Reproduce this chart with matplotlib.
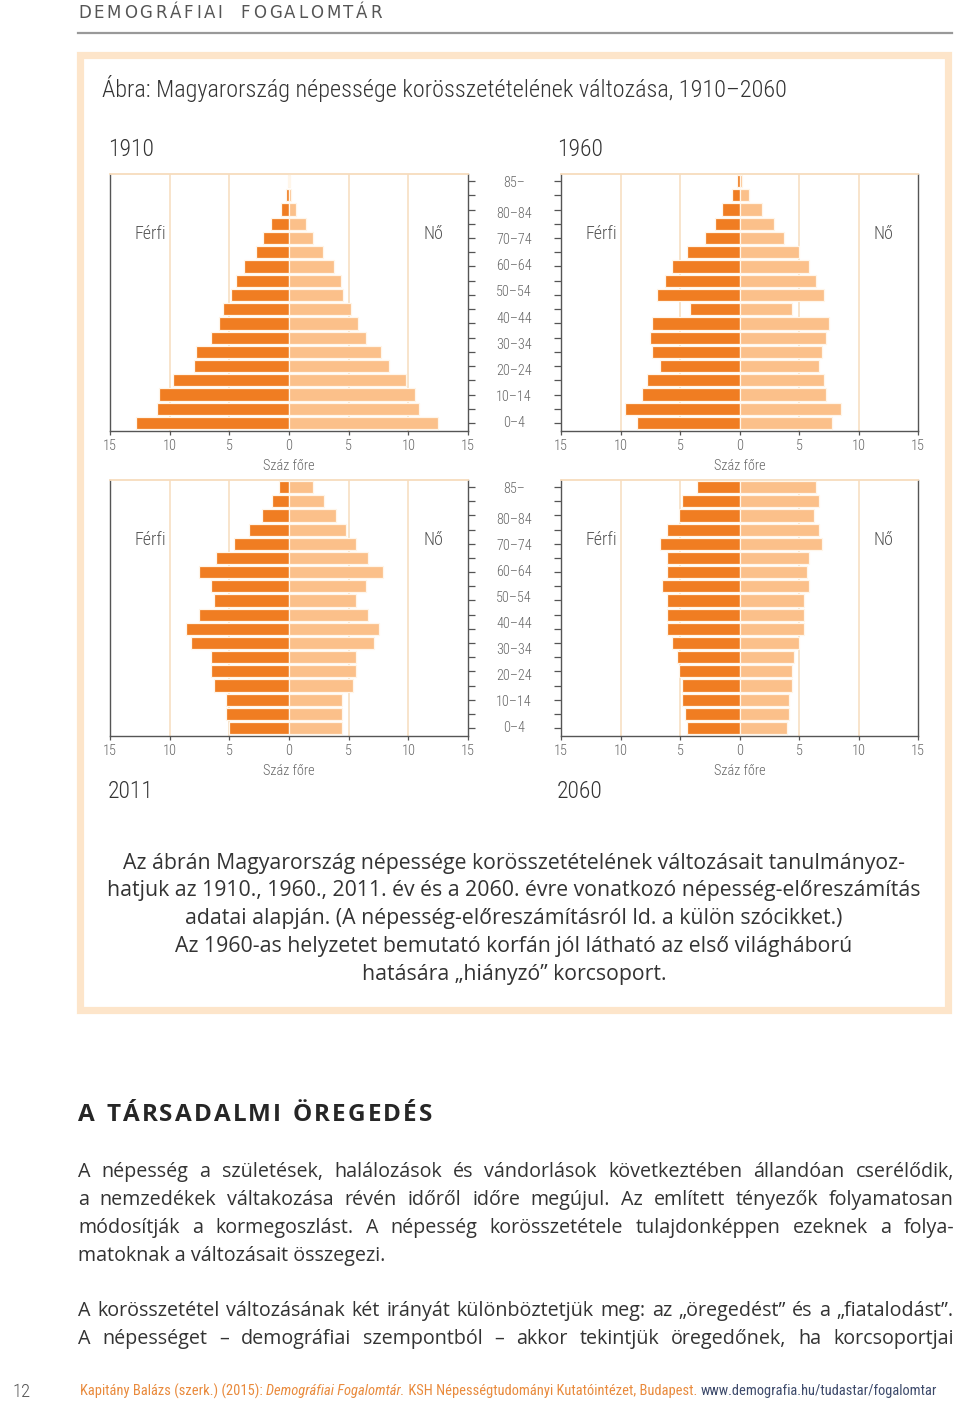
import matplotlib
matplotlib.use("Agg")
import matplotlib.pyplot as plt
import matplotlib.patches as patches
from matplotlib import font_manager
from matplotlib.font_manager import FontProperties
import numpy as np

W, H = 960, 1403

# age groups, bottom (0-4) to top (85+)
ages = ['0-4', '5-9', '10-14', '15-19', '20-24', '25-29', '30-34', '35-39', '40-44',
        '45-49', '50-54', '55-59', '60-64', '65-69', '70-74', '75-79', '80-84', '85-']
age_labels = ['0–4', '10–14', '20–24', '30–34', '40–44', '50–54', '60–64', '70–74', '80–84', '85–']
age_label_idx = [0, 2, 4, 6, 8, 10, 12, 14, 16, 17]

# per 100 persons
male_1910 = [12.8, 11.1, 10.9, 9.7, 8.0, 7.8, 6.5, 5.9, 5.5, 4.9, 4.45, 3.8, 2.75, 2.15, 1.5, 0.68, 0.29, 0.1]
female_1910 = [12.5, 10.9, 10.6, 9.8, 8.35, 7.7, 6.45, 5.8, 5.2, 4.55, 4.35, 3.75, 2.85, 2.05, 1.4, 0.57, 0.2, 0.05]
male_1960 = [8.6, 9.65, 8.2, 7.75, 6.7, 7.35, 7.5, 7.35, 4.2, 6.9, 6.3, 5.65, 4.4, 2.9, 2.1, 1.45, 0.63, 0.18]
female_1960 = [7.8, 8.55, 7.3, 7.1, 6.65, 6.9, 7.3, 7.5, 4.4, 7.1, 6.45, 5.85, 5.0, 3.75, 2.9, 1.85, 0.8, 0.25]
male_2011 = [5.05, 5.25, 5.25, 6.3, 6.5, 6.5, 8.2, 8.6, 7.55, 6.3, 6.5, 7.55, 6.1, 4.6, 3.35, 2.3, 1.45, 0.85]
female_2011 = [4.4, 4.4, 4.4, 5.4, 5.6, 5.6, 7.1, 7.5, 6.65, 5.6, 6.45, 7.9, 6.65, 5.6, 4.8, 3.95, 2.9, 2.05]
male_2060 = [4.4, 4.6, 4.8, 4.8, 5.05, 5.25, 5.65, 6.1, 6.1, 6.1, 6.5, 6.1, 6.1, 6.7, 6.1, 5.05, 4.8, 3.6]
female_2060 = [3.95, 4.2, 4.2, 4.4, 4.4, 4.6, 5.0, 5.45, 5.45, 5.45, 5.85, 5.65, 5.85, 6.9, 6.65, 6.3, 6.65, 6.45]

xticks = [-15, -10, -5, 0, 5, 10, 15]

MALE = '#f07d22'
FEMALE = '#fbc08a'
GRID = '#f7dcbd'
FRAME = '#fde5ca'
DARK = '#555555'
TXT = '#333333'
FOOT_OR = '#e98a3c'
FOOT_BL = '#3d4a6b'


def has_font(name):
    try:
        font_manager.findfont(FontProperties(family=name), fallback_to_default=False)
        return True
    except Exception:
        return False


def weight_num(w):
    if isinstance(w, (int, float)):
        return int(w)
    return font_manager.weight_dict.get(str(w), 400)


def find_condensed(style='normal', weight=400):
    prefs = ['Roboto Condensed', 'Liberation Sans Narrow', 'DejaVu Sans', 'Noto Sans', 'Open Sans']
    cands = []
    for f in font_manager.fontManager.ttflist:
        fn = f.fname.lower()
        cond = ('condensed' in fn or 'narrow' in fn or f.stretch == 'condensed')
        if not cond or f.style != style:
            continue
        if 'extra' in fn or 'ultra' in fn or 'semicond' in fn:
            continue
        rank = prefs.index(f.name) if f.name in prefs else 50
        cands.append((rank, abs(weight_num(f.weight) - weight), f.fname))
    cands.sort()
    return cands[0][2] if cands else None


_cond = find_condensed('normal')
_cond_light = find_condensed('normal', 300) or _cond
_cond_it = find_condensed('italic') or find_condensed('oblique')
_fallback = 'Roboto' if has_font('Roboto') else 'DejaVu Sans'
BODY = 'Open Sans' if has_font('Open Sans') else 'DejaVu Sans'
WIDE = 'DejaVu Sans'


def narrow(size, italic=False, light=False):
    if italic and _cond_it:
        return FontProperties(fname=_cond_it, size=size)
    if light and _cond_light:
        return FontProperties(fname=_cond_light, size=size)
    if _cond and not italic:
        return FontProperties(fname=_cond, size=size)
    return FontProperties(family=_fallback, size=size, style='italic' if italic else 'normal')


def light(size):
    return narrow(size, light=True)


def body(size, weight='normal', family=None):
    return FontProperties(family=family or BODY, size=size, weight=weight)


fig = plt.figure(figsize=(W / 100, H / 100), dpi=100)
fig.patch.set_facecolor('white')
renderer = fig.canvas.get_renderer()


def fx(x):
    return x / W


def fy(y):
    return 1 - y / H


def rect_px(l, t, r, b):
    return [fx(l), fy(b), (r - l) / W, (b - t) / H]


def ftext(x, y, s, fp, **kw):
    return fig.text(fx(x), fy(y), s, fontproperties=fp, **kw)


def width_of(t):
    return t.get_window_extent(renderer=renderer).width


def fit(s, make_fp, target, start=12.0):
    t = fig.text(0, 0, s, fontproperties=make_fp(start))
    w = width_of(t)
    t.remove()
    return start * target / w


def justify(line, x0, x1, y, fp, **kw):
    words = line.split(' ')
    objs = [ftext(x0, y, w, fp, ha='left', va='center', **kw) for w in words]
    widths = [width_of(o) for o in objs]
    gap = (x1 - x0 - sum(widths)) / max(len(words) - 1, 1)
    x = x0
    for o, w in zip(objs, widths):
        o.set_x(fx(x))
        x += w + gap


def tracked(s, x0, x1, y, fp, **kw):
    objs = [ftext(x0, y, c, fp, ha='left', va='center', **kw) for c in s]
    widths = [width_of(o) if c != ' ' else fp.get_size_in_points() * 100 / 72 * 0.3
              for o, c in zip(objs, s)]
    extra = (x1 - x0 - sum(widths)) / max(len(s) - 1, 1)
    x = x0
    for o, w in zip(objs, widths):
        o.set_x(fx(x))
        x += w + extra


def segments(parts, x0, y, **kw):
    x = x0
    for s, fp, color in parts:
        t = ftext(x, y, s, fp, ha='left', va='center', color=color, **kw)
        x += width_of(t)


# header
tracked('DEMOGRÁFIAI  FOGALOMTÁR', 78, 382, 13, FontProperties(family=WIDE, size=12), color='#555555')
fig.add_artist(plt.Line2D([fx(78), fx(952)], [fy(33), fy(33)], color='#999999', lw=1.6,
                          transform=fig.transFigure))

# frame
fig.add_artist(patches.Rectangle((fx(79.5), fy(1009.5)), (947.5 - 79.5) / W, (1009.5 - 54.5) / H,
                                 transform=fig.transFigure, fill=False, edgecolor=FRAME, lw=5.2))

title = 'Ábra: Magyarország népessége korösszetételének változása, 1910–2060'
ftext(102, 89, title, light(min(fit(title, light, 702), 17.5)), color=TXT, va='center', ha='left')

y = np.arange(len(ages))
TICKFP = narrow(10.4, light=True)


def pyramid(rect, male, female, axis_side):
    ax = fig.add_axes(rect_px(*rect))
    ax.barh(y, [-m for m in male], height=0.86, color=MALE, edgecolor='#fff6ea', lw=0.9, zorder=3)
    ax.barh(y, female, height=0.86, color=FEMALE, edgecolor='#fff6ea', lw=0.9, zorder=3)
    for v in (-10, -5, 5, 10):
        ax.axvline(v, color=GRID, lw=1.1, zorder=1)
    ax.set_xlim(-15, 15)
    ax.set_ylim(-0.56, 17.5)
    ax.set_xticks(xticks)
    ax.set_xticklabels([str(abs(v)) for v in xticks], fontproperties=TICKFP, color='#666666')
    ax.tick_params(axis='x', length=3, width=0.9, color=DARK, pad=3)
    ax.set_yticks(y)
    ax.set_yticklabels([])
    ax.yaxis.set_ticks_position(axis_side)
    ax.tick_params(axis='y', direction='out', length=5, width=0.9, color=DARK)
    for s in ('left', 'right', 'bottom'):
        ax.spines[s].set_color(DARK)
        ax.spines[s].set_linewidth(1.0)
    ax.spines['top'].set_color(GRID)
    ax.spines['top'].set_linewidth(1.3)
    ax.text(-11.6, 13.3, 'Férfi', ha='center', va='center', fontproperties=light(13), color='#555555')
    ax.text(12.1, 13.3, 'Nő', ha='center', va='center', fontproperties=light(13), color='#555555')
    ax.set_xlabel('Száz főre', fontproperties=TICKFP, color='#666666', labelpad=4)
    return ax


rows = [(174, 431), (480, 736)]
ax1 = pyramid((110, 174, 468, 431), male_1910, female_1910, 'right')
ax2 = pyramid((561, 174, 918, 431), male_1960, female_1960, 'left')
ax3 = pyramid((110, 480, 468, 736), male_2011, female_2011, 'right')
ax4 = pyramid((561, 480, 918, 736), male_2060, female_2060, 'left')

# age label column
for t, b in rows:
    lab = fig.add_axes(rect_px(480, t, 548, b))
    lab.set_axis_off()
    lab.set_xlim(0, 1)
    lab.set_ylim(-0.61, 19.06)
    for i, s in zip(age_label_idx, age_labels):
        yy = i if i < 17 else 18.4
        lab.text(0.5, yy, s, ha='center', va='center', fontproperties=light(10.2), color='#666666')

for x, yy, s in [(108, 149, '1910'), (557, 149, '1960'), (108, 791, '2011'), (557, 791, '2060')]:
    ftext(x, yy, s, light(17), color=TXT, ha='left', va='center')

# caption inside the frame
caption = ['Az ábrán Magyarország népessége korösszetételének változásait tanulmányoz-',
           'hatjuk az 1910., 1960., 2011. év és a 2060. évre vonatkozó népesség-előreszámítás',
           'adatai alapján. (A népesség-előreszámításról ld. a külön szócikket.)',
           'Az 1960-as helyzetet bemutató korfán jól látható az első világháború',
           'hatására „hiányzó” korcsoport.']
cap_size = fit(caption[1], body, 811)
for i, line in enumerate(caption):
    ftext(514, 863 + i * 27.8, line, body(cap_size), color=TXT, ha='center', va='center')

tracked('A TÁRSADALMI ÖREGEDÉS', 78, 432, 1115, body(17.5, 'bold'), color='#262626')

body_lines = [('A népesség a születések, halálozások és vándorlások következtében állandóan cserélődik,', True),
              ('a nemzedékek váltakozása révén időről időre megújul. Az említett tényezők folyamatosan', True),
              ('módosítják a kormegoszlást. A népesség korösszetétele tulajdonképpen ezeknek a folya-', True),
              ('matoknak a változásait összegezi.', False),
              ('A korösszetétel változásának két irányát különböztetjük meg: az „öregedést” és a „fiatalodást”.', True),
              ('A népességet – demográfiai szempontból – akkor tekintjük öregedőnek, ha korcsoportjai', True)]
body_y = [1172, 1200, 1228, 1256, 1311, 1339]
body_size = min(fit(body_lines[4][0], body, 872), 14.2)
for (line, just), yy in zip(body_lines, body_y):
    if just:
        justify(line, 78, 954, yy, body(body_size), color=TXT)
    else:
        ftext(78, yy, line, body(body_size), color=TXT, ha='left', va='center')

# footer
ftext(12, 1392, '12', light(13.5), color='#555555', ha='left', va='center')
foot = [('Kapitány Balázs (szerk.) (2015): ', False, FOOT_OR),
        ('Demográfiai Fogalomtár.', True, FOOT_OR),
        (' KSH Népességtudományi Kutatóintézet, Budapest. ', False, FOOT_OR),
        ('www.demografia.hu/tudastar/fogalomtar', False, FOOT_BL)]
probe = [ftext(0, 0, s, narrow(10, it)) for s, it, c in foot]
total = sum(width_of(p) for p in probe)
for p in probe:
    p.remove()
fsize = 10 * 852 / total
segments([(s, narrow(fsize, it), c) for s, it, c in foot], 80, 1391)

fig.savefig('out.png', dpi=100, facecolor='white')
